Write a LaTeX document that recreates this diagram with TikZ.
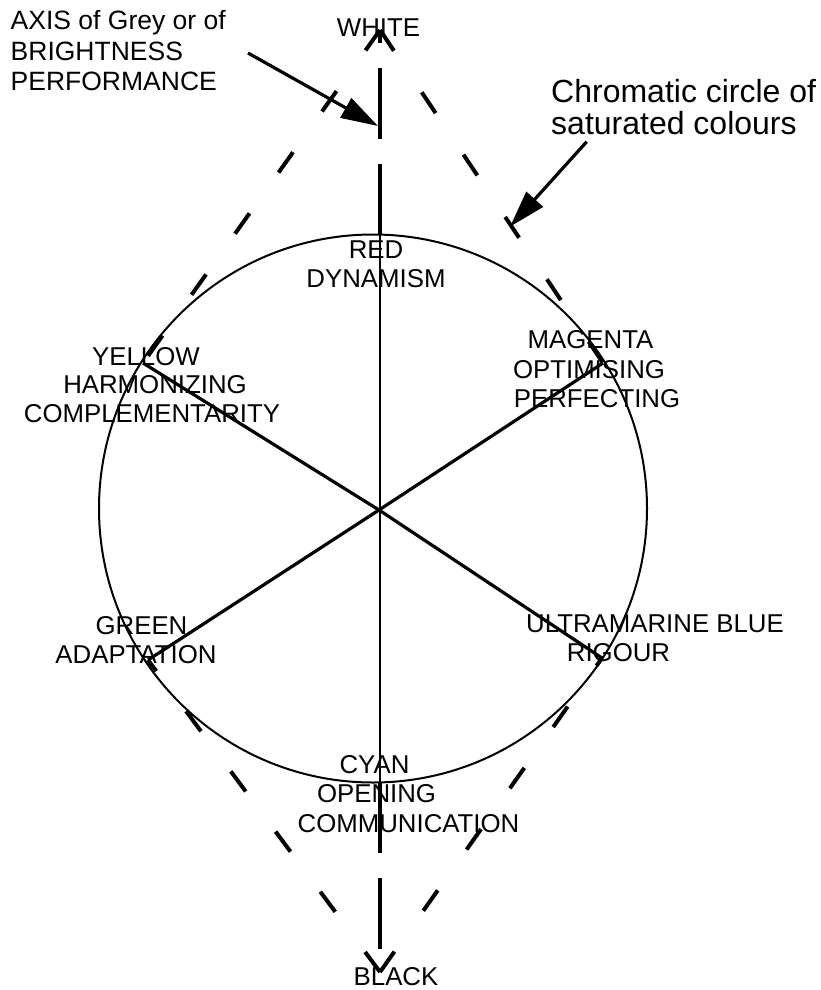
\documentclass[tikz,border=0pt]{standalone}
\usepackage{fontspec}
\setmainfont{Liberation Sans}
\usetikzlibrary{arrows.meta}
\tikzset{
  lbl/.style={font=\fontsize{25.8}{30}\selectfont, inner sep=0pt, anchor=base},
  note/.style={font=\fontsize{26.5}{30}\selectfont, inner sep=0pt, anchor=base west},
  bignote/.style={font=\fontsize{32}{33}\selectfont, inner sep=0pt, anchor=base west},
  rim/.style={line width=2pt},
  spoke/.style={line width=3.2pt},
  thinaxis/.style={line width=2pt},
  axisthick/.style={line width=4.5pt, dash pattern=on 71pt off 25pt},
  cone/.style={line width=4pt, dash pattern=on 25pt off 50pt},
  pointer/.style={line width=3.2pt, -{Triangle[length=37pt,width=22pt]}},
}
\begin{document}
\begin{tikzpicture}[x=1pt,y=-1pt]
\useasboundingbox (0,0) rectangle (821,990);
% key points
\coordinate (C) at (373,508.5);
\coordinate (X) at (379,510);
\coordinate (ctop) at (380,234.6);
\coordinate (cbot) at (380,782.4);
\coordinate (wapex) at (380,30);
\coordinate (bapex) at (380,972);
\coordinate (yel) at (143,363);
\coordinate (mag) at (603,363);
\coordinate (gre) at (148,660);
\coordinate (ult) at (602,658);
% chromatic circle
\draw[rim] (C) circle[radius=274pt];
% spokes
\draw[spoke] (yel) -- (X) -- (ult);
\draw[spoke] (mag) -- (X) -- (gre);
% grey axis
\draw[thinaxis] (ctop) -- (cbot);
\draw[axisthick] (ctop) -- (wapex);
\draw[axisthick] (cbot) -- (bapex);
% cones
\draw[cone] (wapex) -- (yel);
\draw[cone] (wapex) -- (mag);
\draw[cone] (bapex) -- (gre);
\draw[cone] (bapex) -- (ult);
% labels
\node[lbl] (white) at (378.5,37) {WHITE};
\node[lbl] (black) at (396,985.5) {BLACK};
\node[note] (ax1) at (10.5,30) {AXIS of Grey or of};
\node[note] (ax2) at (10.5,61) {BRIGHTNESS};
\node[note] (ax3) at (10.5,90) {PERFORMANCE};
\node[bignote] (ch1) at (551,102) {Chromatic circle of};
\node[bignote] (ch2) at (551,134) {saturated colours};
\node[lbl] (red1) at (376,258) {RED};
\node[lbl] (red2) at (376,287) {DYNAMISM};
\node[lbl] (yel1) at (146,365) {YELLOW};
\node[lbl] (yel2) at (155,393) {HARMONIZING};
\node[lbl] (yel3) at (152,422) {COMPLEMENTARITY};
\node[lbl] (mag1) at (590.5,348) {MAGENTA};
\node[lbl] (mag2) at (589,378) {OPTIMISING};
\node[lbl] (mag3) at (597,407) {PERFECTING};
\node[lbl] (gre1) at (141.5,634) {GREEN};
\node[lbl] (gre2) at (136,663) {ADAPTATION};
\node[lbl] (ult1) at (655,632) {ULTRAMARINE BLUE};
\node[lbl] (ult2) at (618.5,661) {RIGOUR};
\node[lbl] (cya1) at (374.5,773) {CYAN};
\node[lbl] (cya2) at (376.5,802) {OPENING};
\node[lbl] (cya3) at (408.5,832) {COMMUNICATION};
% pointers
\coordinate (axfrom) at (248,53);
\coordinate (axto) at (378,126);
\coordinate (chfrom) at (586.7,141.7);
\coordinate (chto) at (510,226.7);
\draw[pointer] (axfrom) -- (axto);
\draw[pointer] (chfrom) -- (chto);
\end{tikzpicture}
\end{document}
